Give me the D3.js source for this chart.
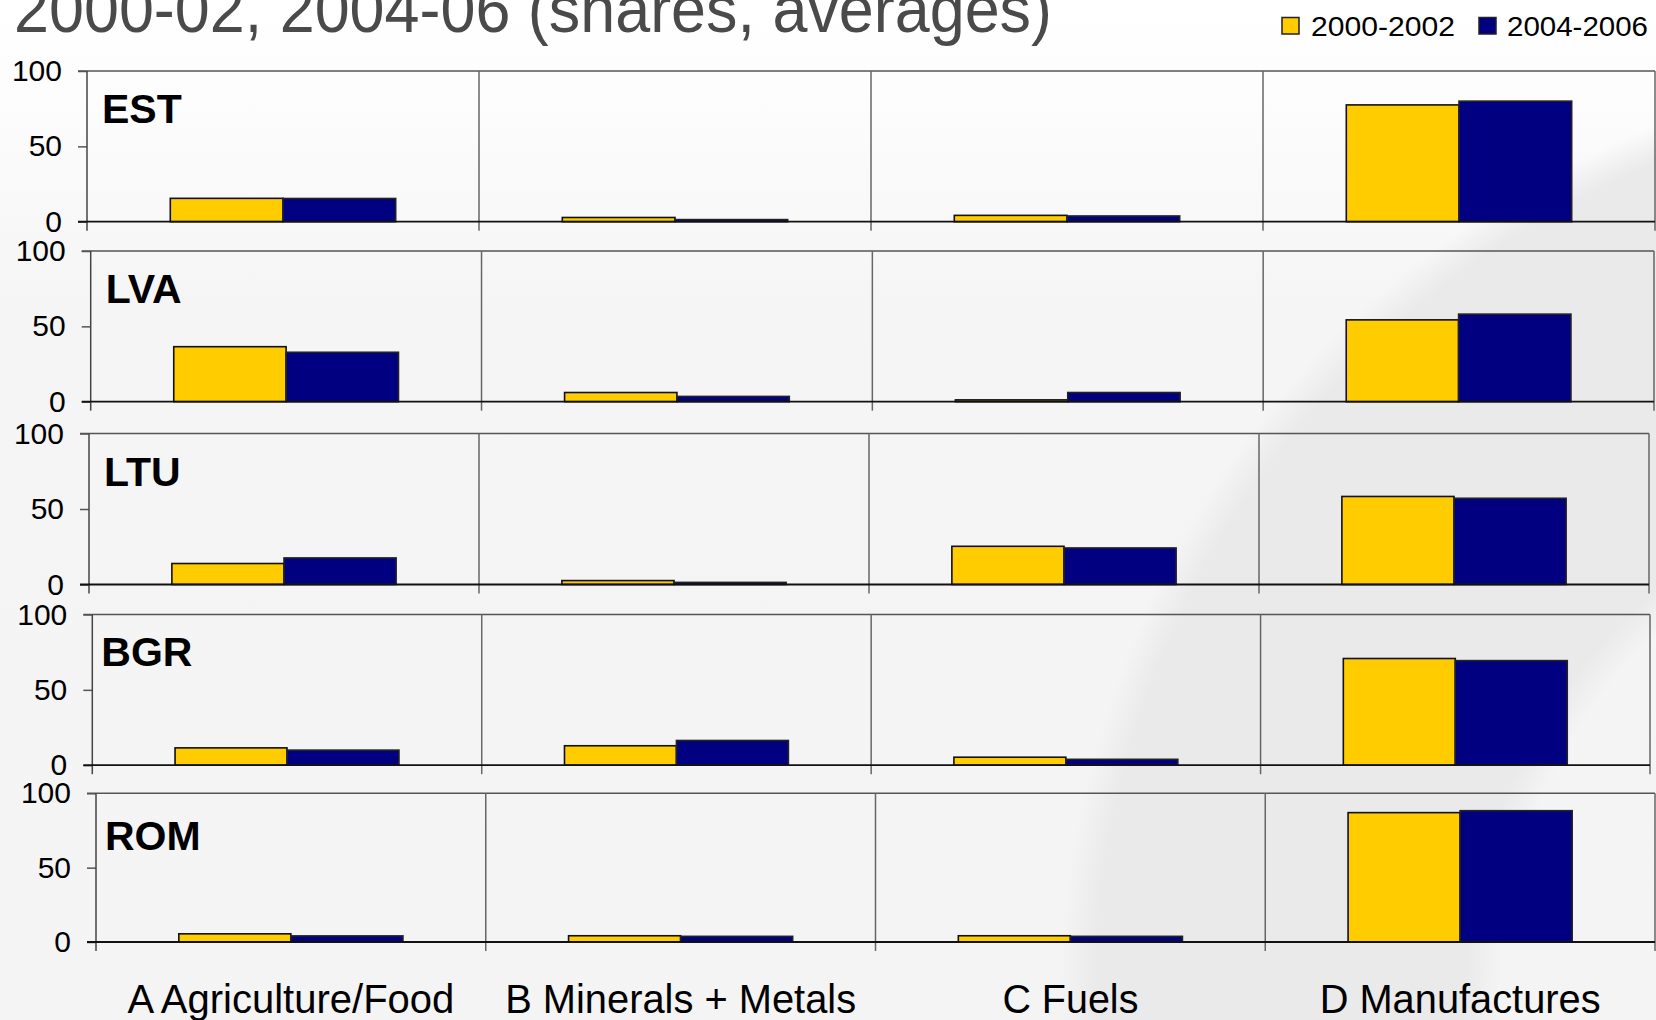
<!DOCTYPE html>
<html>
<head>
<meta charset="utf-8">
<script src="https://cdn.jsdelivr.net/npm/d3@7"></script>
<style>
  html, body { margin: 0; padding: 0; background: #ffffff; }
  svg { display: block; }
  text { font-family: "Liberation Sans", Arial, sans-serif; }
</style>
</head>
<body>
<script>
// ---------------- DATA ----------------
const titleText = "2000-02, 2004-06 (shares, averages)";
const categories = ["A Agriculture/Food", "B Minerals + Metals", "C Fuels", "D Manufactures"];
const countries = ["EST", "LVA", "LTU", "BGR", "ROM"];
const seriesNames = ["2000-2002", "2004-2006"];
const yTicks = [0, 50, 100];

// values per country (rows follow `countries`), columns follow `categories`
const values2000_02 = [
  [15.5, 2.8, 4.2, 77.5],   // EST
  [36.5, 6.1, 1.2, 54.3],   // LVA
  [13.9, 2.6, 25.3, 58.3],  // LTU
  [11.5, 12.9, 5.3, 70.8],  // BGR
  [5.5, 4.2, 4.2, 87.0]     // ROM
];
const values2004_06 = [
  [15.4, 1.4, 3.8, 80.0],   // EST
  [32.8, 3.5, 6.1, 58.1],   // LVA
  [17.6, 1.4, 24.2, 57.1],  // LTU
  [10.0, 16.4, 3.9, 69.4],  // BGR
  [4.1, 3.8, 3.8, 88.3]     // ROM
];
const seriesColors = ["#FFCC00", "#000080"];

// ---------------- LAYOUT ----------------
const W = 1656, H = 1020;
const panelLayout = [
  { left: 87.0, right: 1655, top: 71.0,  zero: 221.7, ldx: 15, ldy: 52 },
  { left: 90.7, right: 1654, top: 251.0, zero: 401.7, ldx: 15, ldy: 51.5 },
  { left: 89.0, right: 1649, top: 433.5, zero: 584.5, ldx: 15, ldy: 52.5 },
  { left: 92.3, right: 1650, top: 614.5, zero: 765.2, ldx: 9,  ldy: 51.5 },
  { left: 96.0, right: 1655, top: 793.3, zero: 942.0, ldx: 9,  ldy: 57 }
];
const catLabelWidths = [327, 351, 136, 281];
const groupFrac = 0.575;

const svg = d3.select("body").append("svg")
  .attr("width", W).attr("height", H)
  .attr("viewBox", `0 0 ${W} ${H}`);

const defs = svg.append("defs");
const lg = defs.append("linearGradient").attr("id", "bgGrad")
  .attr("x1", 0).attr("y1", 0).attr("x2", 0).attr("y2", 1);
lg.append("stop").attr("offset", 0).attr("stop-color", "#ffffff");
lg.append("stop").attr("offset", 0.08).attr("stop-color", "#fdfdfd");
lg.append("stop").attr("offset", 0.3).attr("stop-color", "#f5f5f5");
lg.append("stop").attr("offset", 1).attr("stop-color", "#f4f4f4");

const rg = defs.append("radialGradient").attr("id", "swoosh")
  .attr("gradientUnits", "userSpaceOnUse")
  .attr("cx", 2000).attr("cy", 1000).attr("r", 1000);
[[0, 0], [0.50, 0], [0.535, 1], [0.905, 1], [0.94, 0], [1, 0]].forEach(([o, a]) => {
  rg.append("stop").attr("offset", o).attr("stop-color", "#eaeaea").attr("stop-opacity", a);
});

svg.append("rect").attr("width", W).attr("height", H).attr("fill", "url(#bgGrad)");
svg.append("rect").attr("width", W).attr("height", H).attr("fill", "url(#swoosh)");

// ---------------- TITLE ----------------
svg.append("text")
  .attr("x", 14).attr("y", 32)
  .attr("font-size", 66)
  .attr("fill", "#4a4a4a")
  .attr("textLength", 1038)
  .attr("lengthAdjust", "spacingAndGlyphs")
  .text(titleText);

// ---------------- LEGEND ----------------
const legendItems = [
  { sx: 1282, tx: 1311, tw: 144 },
  { sx: 1479, tx: 1507, tw: 141 }
];
seriesNames.forEach((name, i) => {
  const L = legendItems[i];
  svg.append("rect").attr("x", L.sx).attr("y", 17.5).attr("width", 17).attr("height", 16.5)
    .attr("fill", seriesColors[i]).attr("stroke", "#222").attr("stroke-width", 1.5);
  svg.append("text").attr("x", L.tx).attr("y", 36)
    .attr("font-size", 28).attr("fill", "#000")
    .attr("textLength", L.tw).attr("lengthAdjust", "spacingAndGlyphs")
    .text(name);
});

// ---------------- PANELS ----------------
let lastX = null;
countries.forEach((country, ci) => {
  const P = panelLayout[ci];
  const g = svg.append("g");
  const x = d3.scaleBand().domain(categories).range([P.left, P.right]).paddingInner(0).paddingOuter(0);
  const y = d3.scaleLinear().domain([0, 100]).range([P.zero, P.top]);
  const bw = x.bandwidth();
  const xs = d3.scaleBand().domain(seriesNames).range([0, bw * groupFrac]).padding(0);
  lastX = x;

  g.append("line").attr("x1", P.left - 9).attr("x2", P.right)
    .attr("y1", y(100)).attr("y2", y(100))
    .attr("stroke", "#555").attr("stroke-width", 1.6);

  const divs = categories.slice(1).map(c => x(c)).concat([P.right]);
  g.selectAll("line.div").data(divs).join("line")
    .attr("x1", d => d).attr("x2", d => d)
    .attr("y1", y(100)).attr("y2", y(0) + 9)
    .attr("stroke", "#666").attr("stroke-width", 1.5);

  const yAxis = d3.axisLeft(y).tickValues(yTicks).tickSize(9).tickPadding(16).tickFormat(d3.format("d"));
  const ax = g.append("g").attr("transform", `translate(${P.left},0)`).call(yAxis);
  ax.select(".domain").remove();
  ax.selectAll(".tick line").attr("stroke", "#555").attr("stroke-width", 1.5);
  ax.selectAll(".tick text").attr("font-size", 30).attr("fill", "#000")
    .attr("font-family", "'Liberation Sans', Arial, sans-serif");
  g.append("line").attr("x1", P.left).attr("x2", P.left)
    .attr("y1", y(100)).attr("y2", y(0) + 9)
    .attr("stroke", "#444").attr("stroke-width", 1.5);

  const rows = categories.map((c, k) => ({ cat: c, vals: [values2000_02[ci][k], values2004_06[ci][k]] }));
  const grp = g.selectAll("g.cat").data(rows).join("g")
    .attr("transform", d => `translate(${x(d.cat) + bw * (1 - groupFrac) / 2},0)`);
  grp.selectAll("rect").data(d => d.vals.map((v, i) => ({ v, s: seriesNames[i], i }))).join("rect")
    .attr("x", d => xs(d.s))
    .attr("width", xs.bandwidth())
    .attr("y", d => y(d.v))
    .attr("height", d => y(0) - y(d.v))
    .attr("fill", d => seriesColors[d.i])
    .attr("stroke", d => d.i === 0 ? "#111" : "#222")
    .attr("stroke-width", 1.6);

  g.append("line").attr("x1", P.left - 9).attr("x2", P.right)
    .attr("y1", y(0)).attr("y2", y(0))
    .attr("stroke", "#111").attr("stroke-width", 1.8);

  g.append("text").attr("x", P.left + P.ldx).attr("y", P.top + P.ldy)
    .attr("font-size", 41).attr("font-weight", "bold").attr("fill", "#000")
    .text(country);
});

// ---------------- CATEGORY LABELS ----------------
svg.selectAll("text.cat").data(categories).join("text")
  .attr("class", "cat")
  .attr("x", d => lastX(d) + lastX.bandwidth() / 2)
  .attr("y", 1013)
  .attr("text-anchor", "middle")
  .attr("font-size", 41)
  .attr("fill", "#000")
  .attr("textLength", (d, i) => catLabelWidths[i])
  .attr("lengthAdjust", "spacingAndGlyphs")
  .text(d => d);
</script>
</body>
</html>
